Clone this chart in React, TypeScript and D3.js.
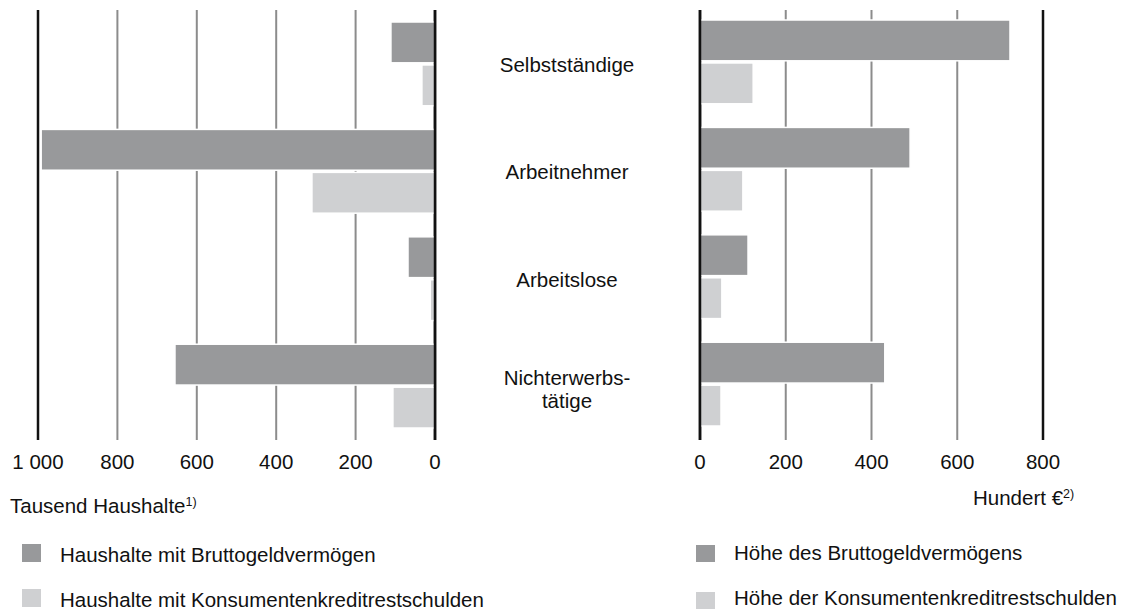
import * as d3 from "d3";

// Kategorien (Haushaltstyp)
const categories = ["Selbstständige", "Arbeitnehmer", "Arbeitslose", "Nichterwerbstätige"];
const categoryLines = [["Selbstständige"], ["Arbeitnehmer"], ["Arbeitslose"], ["Nichterwerbs-", "tätige"]];

// linke Seite: Tausend Haushalte
const householdsGross = [111, 992, 68, 655];
const householdsCredit = [33, 310, 12, 106];

// rechte Seite: Hundert €
const amountGross = [723, 490, 112, 431];
const amountCredit = [124, 100, 51, 49];

const leftTicks = [1000, 800, 600, 400, 200, 0];
const leftTickLabels = ["1 000", "800", "600", "400", "200", "0"];
const rightTicks = [0, 200, 400, 600, 800];
const rightTickLabels = ["0", "200", "400", "600", "800"];

const leftLegend = ["Haushalte mit Bruttogeldvermögen", "Haushalte mit Konsumentenkreditrestschulden"];
const rightLegend = ["Höhe des Bruttogeldvermögens", "Höhe der Konsumentenkreditrestschulden"];

const series = ["brutto", "kredit"];
const colors = { brutto: "#98999b", kredit: "#cfd0d2" };

const W = 1121;
const H = 614;
const font = "'Liberation Sans', Arial, sans-serif";
const fs = 20.5;

const App = () => {
  const xLeft = d3.scaleLinear().domain([0, 1000]).range([435, 38]);
  const xRight = d3.scaleLinear().domain([0, 800]).range([700, 1043]);

  const yLeft = d3.scaleBand().domain(categories).range([22, 428]).paddingInner(0.22).paddingOuter(0);
  const yRight = d3.scaleBand().domain(categories).range([20, 426]).paddingInner(0.22).paddingOuter(0);
  const ySub = d3.scaleBand().domain(series).range([0, yLeft.bandwidth()]).paddingInner(0.05);

  const lineTop = 10;
  const lineBottom = 440;

  const gridLine = (x, i, n) => {
    const edge = i === 0 || i === n - 1;
    return (
      <line
        key={i}
        x1={x}
        x2={x}
        y1={lineTop}
        y2={lineBottom}
        stroke={edge ? "#111" : "#8c8c8c"}
        strokeWidth={edge ? 2.5 : 2}
      />
    );
  };

  const leftData = categories.map((c, i) => ({ c, brutto: householdsGross[i], kredit: householdsCredit[i] }));
  const rightData = categories.map((c, i) => ({ c, brutto: amountGross[i], kredit: amountCredit[i] }));

  return (
    <svg width={W} height={H} style={{ position: "absolute", left: 0, top: 0, background: "#fff" }} fontFamily={font}>
      {/* Gitterlinien */}
      <g>{leftTicks.map((t, i) => gridLine(xLeft(t), i, leftTicks.length))}</g>
      <g>{rightTicks.map((t, i) => gridLine(xRight(t), i, rightTicks.length))}</g>

      {/* Balken links */}
      <g>
        {leftData.map((d) =>
          series.map((s) => (
            <rect
              key={d.c + s}
              x={xLeft(d[s])}
              y={yLeft(d.c) + ySub(s)}
              width={xLeft(0) - xLeft(d[s])}
              height={ySub.bandwidth()}
              fill={colors[s]}
              stroke="#fff"
              strokeWidth={1.5}
            />
          ))
        )}
      </g>

      {/* Balken rechts */}
      <g>
        {rightData.map((d) =>
          series.map((s) => (
            <rect
              key={d.c + s}
              x={xRight(0)}
              y={yRight(d.c) + ySub(s)}
              width={xRight(d[s]) - xRight(0)}
              height={ySub.bandwidth()}
              fill={colors[s]}
              stroke="#fff"
              strokeWidth={1.5}
            />
          ))
        )}
      </g>

      {/* Nulllinien über den Balken */}
      <line x1={xLeft(0)} x2={xLeft(0)} y1={lineTop} y2={lineBottom} stroke="#111" strokeWidth={2.5} />
      <line x1={xRight(0)} x2={xRight(0)} y1={lineTop} y2={lineBottom} stroke="#111" strokeWidth={2.5} />

      {/* Kategorien */}
      <g fontSize={fs} textAnchor="middle" fill="#111">
        {categories.map((c, i) => {
          const lines = categoryLines[i];
          const cy = yLeft(c) + yLeft.bandwidth() / 2;
          const start = lines.length === 1 ? cy + 8 : cy - 1;
          return (
            <text key={c} x={567} y={start}>
              {lines.map((l, j) => (
                <tspan key={j} x={567} dy={j === 0 ? 0 : 23}>
                  {l}
                </tspan>
              ))}
            </text>
          );
        })}
      </g>

      {/* Tick-Beschriftungen */}
      <g fontSize={fs} textAnchor="middle" fill="#111">
        {leftTicks.map((t, i) => (
          <text key={"l" + t} x={xLeft(t)} y={469}>
            {leftTickLabels[i]}
          </text>
        ))}
        {rightTicks.map((t, i) => (
          <text key={"r" + t} x={xRight(t)} y={469}>
            {rightTickLabels[i]}
          </text>
        ))}
      </g>

      {/* Einheiten */}
      <text x={10} y={513} fontSize={fs} fill="#111">
        Tausend Haushalte
        <tspan fontSize={12.5} dy={-7}>1)</tspan>
      </text>
      <text x={973} y={505} fontSize={fs} fill="#111">
        Hundert €
        <tspan fontSize={12.5} dy={-7}>2)</tspan>
      </text>

      {/* Legenden */}
      <g fontSize={fs} fill="#111">
        {leftLegend.map((l, i) => (
          <g key={l}>
            <rect x={22} y={544 + i * 45} width={19} height={18} fill={colors[series[i]]} />
            <text x={60} y={562 + i * 45}>{l}</text>
          </g>
        ))}
        {rightLegend.map((l, i) => (
          <g key={l}>
            <rect x={696} y={545 + i * 47} width={19} height={17} fill={colors[series[i]]} />
            <text x={734} y={560 + i * 45}>{l}</text>
          </g>
        ))}
      </g>
    </svg>
  );
};

export default App;
